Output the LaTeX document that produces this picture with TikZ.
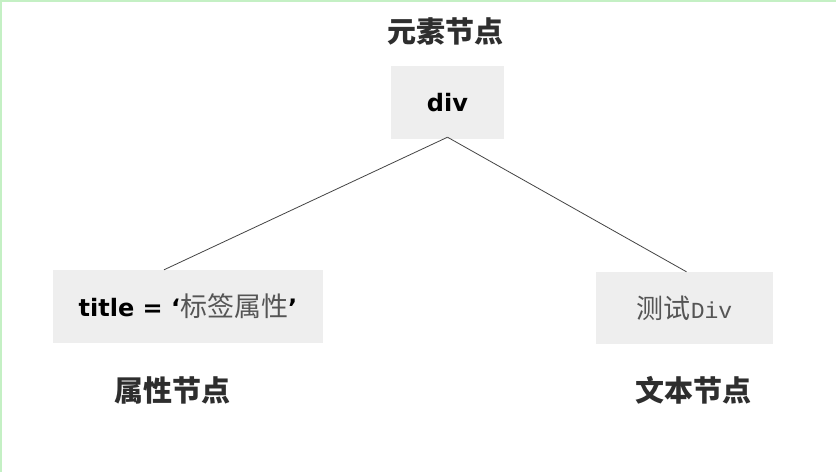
\documentclass[tikz,border=0pt]{standalone}
\usepackage{fontspec}
\setmainfont{DejaVu Sans}
\newfontfamily\cjk{Noto Sans CJK SC}
\newfontfamily\monofnt{Liberation Mono}
\definecolor{boxgray}{HTML}{EEEEEE}
\definecolor{edgegreen}{HTML}{C4F0C4}
\definecolor{txtgray}{HTML}{555555}
\definecolor{lblgray}{HTML}{2E2E2E}
\definecolor{linegray}{HTML}{444444}
\begin{document}
\begin{tikzpicture}[x=1pt,y=-1pt,
  domnode/.style={fill=boxgray, draw=none, inner sep=0pt, anchor=center},
  lbl/.style={inner sep=0pt, anchor=center, text=lblgray, font=\cjk\bfseries\fontsize{29}{29}\selectfont},
  conn/.style={draw=linegray, line width=0.8pt}]
\useasboundingbox (0,0) rectangle (836,472);
\fill[white] (0,0) rectangle (836,472);
\draw[edgegreen, line width=1.5pt] (0.75,472) -- (0.75,0.75) -- (836,0.75);
\node[domnode, minimum width=113pt, minimum height=73pt,
  font=\bfseries\fontsize{24}{24}\selectfont] (div) at (447.5,102.5) {div};
\node[domnode, minimum width=270pt, minimum height=73pt,
  font=\bfseries\fontsize{24}{24}\selectfont] (attr) at (188,306.5)
  {title = ‘{\cjk\mdseries\color{txtgray}\fontsize{27}{27}\selectfont 标签属性}’};
\node[domnode, minimum width=177pt, minimum height=72pt, text=txtgray] (txt) at (684.5,308)
  {{\cjk\fontsize{27}{27}\selectfont 测试}{\monofnt\fontsize{23}{23}\selectfont Div}};
\node[lbl] (lblel) at (445,31) {元素节点};
\node[lbl] (lblattr) at (172,390) {属性节点};
\node[lbl] (lbltxt) at (693,390) {文本节点};
\coordinate (top) at ([yshift=2pt]div.south);
\draw[conn] (top) -- ([xshift=-24pt]attr.north);
\draw[conn] (top) -- ([xshift=2pt]txt.north);
\end{tikzpicture}
\end{document}
